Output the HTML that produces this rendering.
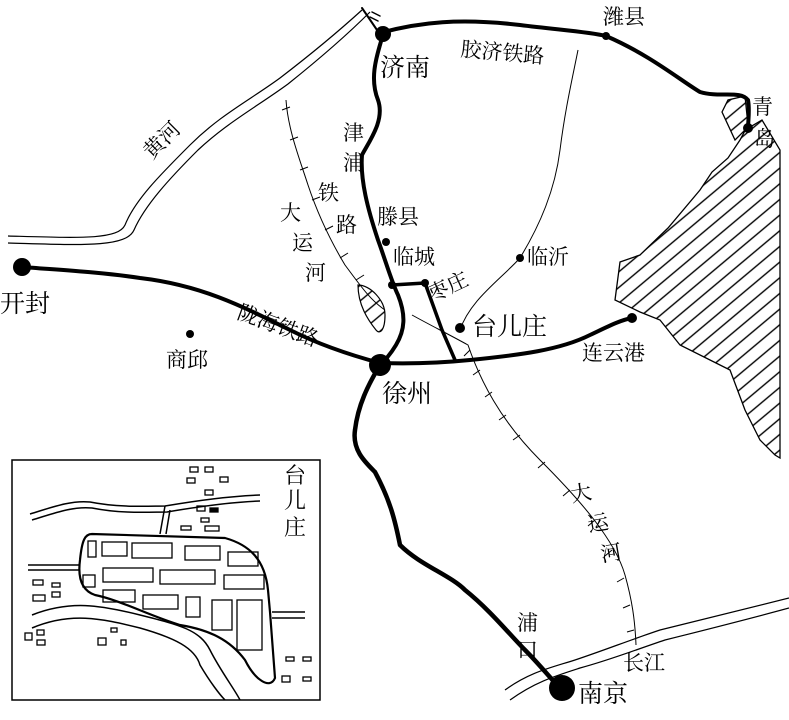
<!DOCTYPE html>
<html><head><meta charset="utf-8"><style>
html,body{margin:0;padding:0;background:#fff}
svg{display:block}
text{font-family:"Liberation Serif","Noto Serif CJK SC","Noto Sans CJK SC",serif;fill:#000}
</style></head><body>
<svg width="789" height="720" viewBox="0 0 789 720" xmlns="http://www.w3.org/2000/svg">
<defs>
<pattern id="h" width="12" height="12" patternUnits="userSpaceOnUse" patternTransform="rotate(-40)">
<line x1="0" y1="6" x2="12" y2="6" stroke="#000" stroke-width="1.4"/>
</pattern>
<clipPath id="box"><rect x="12" y="460" width="308" height="240"/></clipPath>
</defs>
<rect width="789" height="720" fill="#fff"/>
<!-- sea -->
<path d="M722,112 L728,100 L745,96 L748,125 L740,140 L728,158 L712,172 L700,190 L668,228 L640,255 L620,262 L615,300 L640,312 L660,320 L680,345 L730,370 L745,410 L760,440 L775,455 L780,458 L780,150 L762,120 L745,130 L735,140 Z" fill="url(#h)" stroke="#000" stroke-width="1.3"/>
<g fill="none" stroke="#000" stroke-width="1.2">
<path d="M362,10 C340,30 310,55 280,78 C250,100 220,115 190,145 C160,175 135,200 125,225 C118,240 80,238 8,236"/>
<path d="M370,12 C348,34 318,60 288,84 C258,106 228,122 198,150 C170,178 145,205 134,230 C126,248 80,245 8,243"/>
<path d="M505,690 C530,672 550,668 575,660 C605,650 630,640 660,630 C700,620 740,610 789,598"/>
<path d="M510,700 C535,682 555,676 580,668 C610,660 635,650 665,640 C705,630 745,620 789,608"/>
</g>
<g fill="none" stroke="#000" stroke-width="1">
<path d="M286,100 C288,130 300,160 308,185 C318,215 330,240 345,265 C360,285 370,300 385,310"/>
<path d="M412,315 C430,325 450,335 468,345 C480,380 500,420 540,460 C580,500 615,540 625,575 C632,600 635,620 636,645"/>
<path d="M520,258 C540,225 555,190 560,150 C565,110 572,80 578,50"/>
<path d="M460,330 C470,300 500,280 520,258"/>
</g>
<g stroke="#000" stroke-width="1">
<path d="M282,110 l8,-3 M290,140 l8,-3 M300,170 l8,-3 M312,200 l8,-3 M325,230 l8,-4 M340,258 l8,-5 M356,280 l8,-5 M470,350 l-6,6 M480,370 l-7,5 M492,392 l-7,5 M506,415 l-7,5 M520,435 l-7,5 M545,462 l-7,6 M570,490 l-7,6 M595,520 l-7,6 M612,550 l-7,6 M624,578 l-7,4 M630,605 l-7,3 M634,630 l-7,2"/>
</g>
<path d="M358,285 C370,285 385,300 385,315 C385,330 380,335 376,330 C368,320 358,305 358,285 Z" fill="url(#h)" stroke="#000" stroke-width="1.2"/>
<g fill="none" stroke="#000" stroke-linecap="round" stroke-linejoin="round">
<path d="M380,33 C420,22 460,18 520,25 C560,30 590,32 606,36 C650,55 680,80 700,92 C720,98 740,90 748,100 C750,110 748,120 748,130" stroke-width="4"/>
<path d="M383,35 C375,60 370,80 378,100 C385,120 370,140 362,155 C360,180 368,210 378,240 C386,262 392,283 398,295 C406,315 405,330 396,345 C390,355 385,360 380,365" stroke-width="4"/>
<path d="M380,365 C368,385 358,405 355,430 C352,450 365,462 375,472 C390,500 395,520 400,545 C420,565 450,575 465,590 C490,610 510,635 525,650 C540,665 550,678 560,688" stroke-width="4.5"/>
<path d="M392,285 L425,283 L442,330 L455,360" stroke-width="3.5"/>
<path d="M22,267 C60,270 100,272 140,278 C200,285 240,305 290,330 C320,345 350,355 380,363 C410,364 440,363 470,360 C520,355 560,350 590,335 C605,328 620,320 632,318" stroke-width="4"/>
<path d="M362,8 L377,30" stroke-width="2"/>
<path d="M372,12 l8,4 M370,17 l8,4" stroke-width="1.5"/>
</g>
<g fill="#000">
<circle cx="383" cy="34" r="8"/><circle cx="606" cy="36" r="4"/>
<circle cx="748" cy="128" r="5"/>
<circle cx="22" cy="267" r="9"/><circle cx="380" cy="365" r="11"/>
<circle cx="562" cy="688" r="13"/><circle cx="632" cy="318" r="5"/>
<circle cx="190" cy="334" r="4"/><circle cx="386" cy="242" r="4"/>
<circle cx="425" cy="283" r="4"/><circle cx="460" cy="328" r="5"/>
<circle cx="520" cy="258" r="4"/><circle cx="392" cy="285" r="4"/>
</g>
<g font-size="25">
<text x="380" y="76">济南</text>
<text x="0" y="312">开封</text>
<text x="382" y="402">徐州</text>
<text x="472" y="335">台儿庄</text>
<text x="578" y="702">南京</text>
</g>
<g font-size="21">
<text x="460" y="56" transform="rotate(5 460 56)">胶济铁路</text>
<text x="603" y="24">潍县</text>
<text x="752" y="114">青</text><text x="754" y="146">岛</text>
<text x="343" y="140">津</text><text x="343" y="170">浦</text><text x="318" y="200">铁</text><text x="336" y="232">路</text>
<text x="280" y="220">大</text><text x="292" y="250">运</text><text x="305" y="280">河</text>
<text x="377" y="224">滕县</text>
<text x="393" y="264">临城</text>
<text x="432" y="302" transform="rotate(-25 432 302)">枣庄</text>
<text x="527" y="264">临沂</text>
<text x="236" y="318" transform="rotate(20 236 318)">陇海铁路</text>
<text x="166" y="367">商邱</text>
<text x="582" y="360">连云港</text>
<text x="152" y="160" transform="rotate(-45 152 160)">黄河</text>
<text x="572" y="502" transform="rotate(-10 572 502)">大</text>
<text x="589" y="532" transform="rotate(-10 589 532)">运</text>
<text x="602" y="562" transform="rotate(-10 602 562)">河</text>
<text x="517" y="630">浦</text><text x="517" y="657">口</text>
<text x="623" y="670">长江</text>
</g>
<rect x="12" y="460" width="308" height="240" fill="#fff" stroke="#000" stroke-width="1.5"/>
<g clip-path="url(#box)" fill="none" stroke="#000" stroke-width="1.5">
<text x="284" y="483" font-size="22" stroke="none">台</text>
<text x="284" y="508" font-size="22" stroke="none">儿</text>
<text x="284" y="535" font-size="22" stroke="none">庄</text>
<path d="M30,514 C50,508 70,500 90,502 C120,508 150,506 165,506 C200,500 230,496 260,495"/>
<path d="M32,520 C52,514 72,506 92,508 C122,514 150,512 167,512 C202,506 232,502 260,501"/>
<path d="M165,506 L160,534 M170,510 L166,534"/>
<path d="M92,534 L225,538 C250,545 265,560 268,590 L270,612 L275,678 C270,690 255,680 245,660 C230,640 210,630 180,625 C150,616 120,600 95,595 C80,590 78,575 80,560 C82,540 85,534 92,534 Z" stroke-width="2.2"/>
<path d="M28,565 L80,565 M28,570 L80,570 M272,612 L305,612 M272,618 L305,618"/>
<path d="M32,615 C70,600 100,605 140,615 C180,625 200,630 210,650 C220,670 235,690 240,700"/>
<path d="M32,628 C70,612 100,618 140,628 C175,638 195,648 200,665 C210,682 220,695 225,700"/>
<g stroke-width="1.3">
<rect x="102" y="542" width="25" height="14"/><rect x="132" y="543" width="40" height="15"/><rect x="185" y="546" width="35" height="14"/><rect x="228" y="552" width="30" height="14"/>
<rect x="88" y="541" width="8" height="16"/><rect x="83" y="575" width="12" height="12"/>
<rect x="103" y="568" width="50" height="14"/><rect x="160" y="570" width="55" height="14"/><rect x="224" y="575" width="40" height="14"/>
<rect x="103" y="590" width="32" height="12"/><rect x="143" y="595" width="35" height="14"/><rect x="186" y="597" width="14" height="20"/><rect x="212" y="600" width="20" height="30"/><rect x="237" y="600" width="25" height="50"/>
<rect x="190" y="467" width="8" height="5"/><rect x="205" y="467" width="8" height="5"/><rect x="220" y="477" width="8" height="5"/><rect x="187" y="478" width="8" height="5"/><rect x="205" y="490" width="8" height="5"/>
<rect x="197" y="506" width="8" height="5"/><rect x="210" y="508" width="8" height="4" fill="#000"/><rect x="201" y="518" width="8" height="4"/><rect x="181" y="526" width="10" height="4"/><rect x="205" y="526" width="14" height="5"/>
<rect x="33" y="580" width="10" height="5"/><rect x="52" y="583" width="8" height="4"/><rect x="33" y="595" width="12" height="6"/><rect x="52" y="592" width="8" height="5"/>
<rect x="25" y="633" width="7" height="7"/><rect x="37" y="630" width="7" height="5"/><rect x="37" y="640" width="8" height="5"/>
<rect x="98" y="638" width="8" height="7"/><rect x="121" y="640" width="5" height="5"/><rect x="111" y="628" width="6" height="4"/>
<rect x="286" y="657" width="8" height="4"/><rect x="303" y="657" width="8" height="4"/><rect x="282" y="676" width="8" height="6"/><rect x="303" y="677" width="8" height="4"/>
</g>
</g>
</svg>
</body></html>
